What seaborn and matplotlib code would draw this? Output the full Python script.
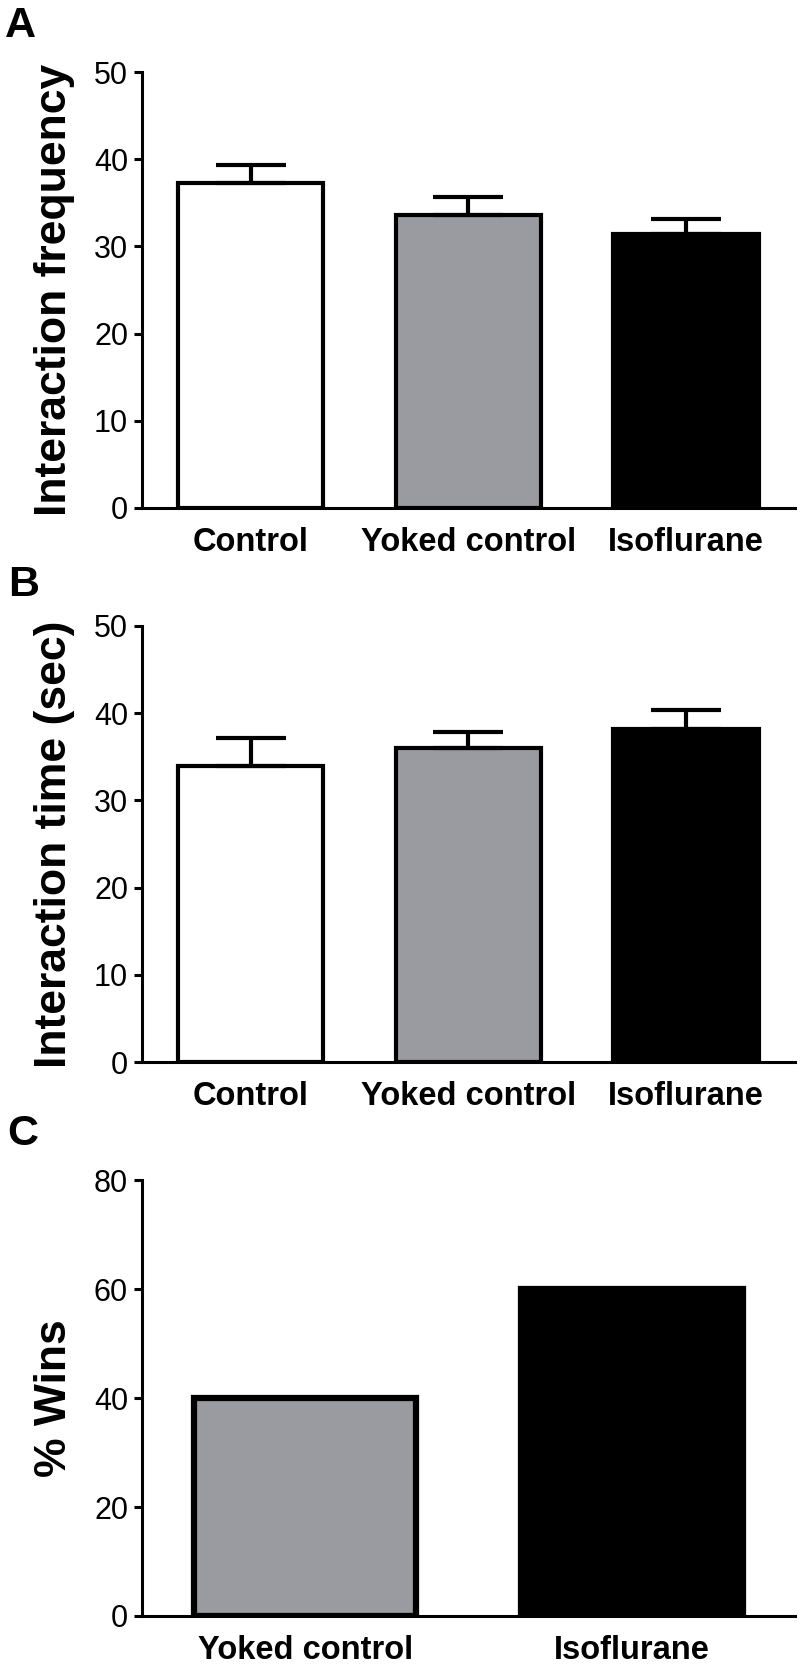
import matplotlib
matplotlib.use("Agg")
import matplotlib.pyplot as plt
import pandas as pd
import seaborn as sns

groups = ["Control", "Yoked control", "Isoflurane"]
freq_mean = [37.3, 33.6, 31.4]
freq_sem = [2.0, 2.1, 1.8]
time_mean = [34.0, 36.0, 38.2]
time_sem = [3.1, 1.9, 2.2]

win_groups = ["Yoked control", "Isoflurane"]
win_pct = [40, 60]

colors = {"Control": "white", "Yoked control": "#989aa1", "Isoflurane": "black"}

sns.set_theme(style="ticks")
plt.rcParams["font.family"] = ["Liberation Sans", "DejaVu Sans"]
plt.rcParams.update({
    "text.color": "black",
    "axes.labelcolor": "black",
    "xtick.color": "black",
    "ytick.color": "black",
    "axes.edgecolor": "black",
})

fig = plt.figure(figsize=(8, 16.72), dpi=100)

axA = fig.add_axes([0.1775, 0.6963, 0.816, 0.2605])
axB = fig.add_axes([0.1775, 0.3648, 0.816, 0.2608])
axC = fig.add_axes([0.1775, 0.0335, 0.816, 0.2605])


def style_axis(ax, ylabel, ymax, step):
    ax.set_ylim(0, ymax)
    ax.set_yticks(range(0, ymax + 1, step))
    ax.set_ylabel(ylabel, fontsize=32, fontweight="bold", color="black")
    ax.yaxis.set_label_coords(-0.103, 0.5)
    ax.set_xlabel("")
    for side in ["top", "right"]:
        ax.spines[side].set_visible(False)
    for side in ["left", "bottom"]:
        ax.spines[side].set_linewidth(2.2)
        ax.spines[side].set_color("black")
    ax.tick_params(axis="y", length=6, width=2.2, pad=4, labelsize=22, colors="black")
    ax.tick_params(axis="x", length=0, pad=14, labelsize=23.5, colors="black")
    for lab in ax.get_xticklabels():
        lab.set_fontweight("bold")


def bar_panel(ax, names, means, sems, ylabel):
    df = pd.DataFrame({"group": names, "value": means})
    sns.barplot(data=df, x="group", y="value", hue="group", palette=colors,
                order=names, hue_order=names, width=0.667, errorbar=None,
                edgecolor="black", linewidth=3, legend=False, ax=ax)
    ax.errorbar(range(len(names)), means, yerr=[[0] * len(names), sems],
                fmt="none", ecolor="black", elinewidth=3, capsize=25.5,
                capthick=3, zorder=1)
    ax.set_xlim(-0.5, 2.5)
    style_axis(ax, ylabel, 50, 10)


bar_panel(axA, groups, freq_mean, freq_sem, "Interaction frequency")
bar_panel(axB, groups, time_mean, time_sem, "Interaction time (sec)")

dfC = pd.DataFrame({"group": win_groups, "value": win_pct})
sns.barplot(data=dfC, x="group", y="value", hue="group", palette=colors,
            order=win_groups, hue_order=win_groups, width=0.68, errorbar=None,
            edgecolor="black", linewidth=4.5, legend=False, ax=axC)
axC.set_xlim(-0.5, 1.5)
style_axis(axC, "% Wins", 80, 20)

for letter, xpos, ybase in [("A", 5, 37), ("B", 8, 596), ("C", 7, 1145)]:
    fig.text(xpos / 800, 1 - ybase / 1672, letter, fontsize=31,
             fontweight="bold", va="baseline", ha="left", color="black")

fig.savefig("out.png", dpi=100)
